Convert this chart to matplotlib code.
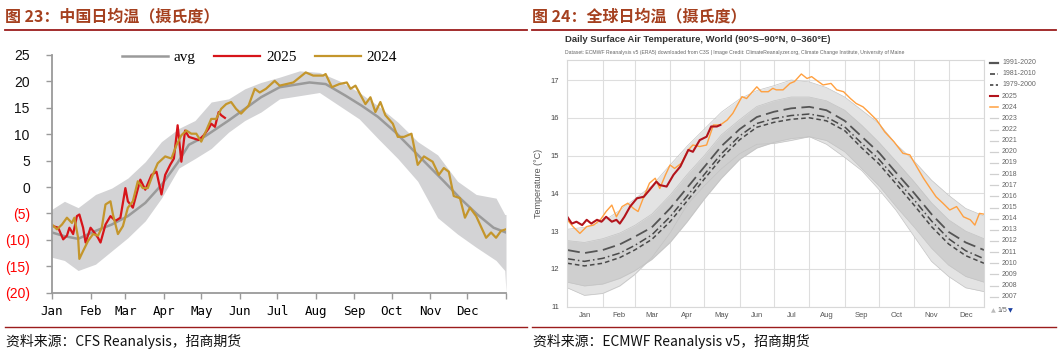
import matplotlib
matplotlib.use('Agg')
import matplotlib.pyplot as plt
from matplotlib.lines import Line2D

# ---------------- 图23 中国日均温 (day of year -> deg C) ----------------
cn_band_days = [0, 10, 21, 35, 48, 61, 75, 88, 102, 115, 128, 142, 155, 168, 183,
                199, 215, 231, 247, 262, 278, 294, 310, 326, 341, 357, 364, 365]
cn_band_hi = [-4.2, -2.7, -3.9, -1.4, -0.2, 1.7, 4.8, 8.6, 11.1, 12.6, 16.1, 16.7, 18.6, 19.8, 20.8,
              22.0, 21.7, 20.1, 17.9, 15.4, 12.3, 8.6, 6.1, 1.1, -1.4, -2.1, -5.2, -5.2]
cn_band_lo = [-13.3, -13.9, -15.8, -14.6, -12.1, -9.6, -6.4, -2.1, 3.6, 5.4, 7.3, 10.4, 12.6, 14.2, 16.7,
              17.3, 17.9, 15.4, 12.9, 9.2, 5.4, 1.1, -5.8, -8.9, -11.4, -13.9, -15.8, -20.0]

cn_avg_days = [0, 10, 21, 35, 48, 61, 75, 88, 101, 110, 123, 142, 155, 168, 183,
               207, 220, 236, 249, 262, 276, 289, 302, 315, 328, 342, 355, 365]
cn_avg = [-8.6, -9.3, -9.8, -8.3, -7.1, -5.5, -3.0, 0.4, 4.6, 8.0, 9.6, 12.6, 14.8, 17.0, 18.9,
          19.8, 19.5, 17.3, 15.4, 13.3, 10.4, 7.3, 4.2, 1.1, -2.1, -5.2, -7.7, -8.6]

cn_2025_days = [1, 5, 9, 12, 14, 17, 20, 22, 25, 27, 31, 34, 37, 39, 43, 47, 51, 55, 59, 61, 65,
                71, 75, 80, 84, 88, 91, 95, 98, 101, 104, 107, 110, 114, 118, 122, 126, 128, 131,
                134, 136, 139]
cn_2025 = [-7.4, -7.7, -9.9, -9.2, -7.7, -8.9, -5.5, -5.2, -7.7, -10.5, -7.7, -8.6, -9.6, -10.5,
           -7.1, -5.5, -6.4, -5.8, -0.2, -2.7, -3.9, 1.4, -0.5, 2.3, 2.9, -1.4, 2.3, 4.2, 5.4,
           11.7, 4.8, 10.7, 9.5, 9.2, 8.9, 9.8, 11.1, 12.0, 11.4, 14.2, 13.6, 13.1]

cn_2024_days = [0, 4, 8, 12, 16, 18, 21, 22, 25, 29, 33, 37, 40, 43, 47, 49, 53, 57, 61, 65, 69,
                73, 77, 81, 85, 91, 96, 100, 104, 108, 112, 116, 120, 124, 128, 132, 136, 140,
                144, 148, 152, 158, 163, 167, 172, 179, 183, 194, 204, 210, 218, 220, 225, 231,
                237, 240, 244, 252, 256, 260, 264, 268, 274, 278, 283, 289, 294, 299, 306, 311,
                315, 319, 323, 328, 332, 336, 341, 349, 353, 357, 361, 365]
cn_2024 = [-7.1, -8.0, -7.1, -5.8, -6.8, -5.8, -9.6, -13.6, -12.1, -10.2, -8.9, -9.2, -7.7, -3.3,
           -2.7, -5.2, -8.9, -7.4, -3.9, -2.7, 1.1, -0.2, -0.2, 2.3, 4.5, 5.8, 5.4, 7.9, 9.8,
           10.7, 10.1, 10.1, 8.6, 10.7, 12.9, 12.9, 14.8, 15.7, 16.1, 14.8, 13.9, 15.4, 18.6,
           17.9, 18.6, 20.1, 19.2, 19.8, 21.7, 21.1, 21.1, 21.4, 18.9, 19.5, 19.8, 18.6, 19.2,
           15.7, 17.0, 14.2, 16.1, 13.6, 12.0, 9.5, 9.5, 10.1, 4.2, 5.8, 4.8, 2.3, 3.6, 2.9,
           -1.7, -2.1, -5.8, -3.9, -5.5, -9.6, -8.6, -9.6, -8.3, -8.0]

month_starts = [0, 31, 59, 90, 120, 151, 181, 212, 243, 273, 304, 334, 365]
month_names = ['Jan', 'Feb', 'Mar', 'Apr', 'May', 'Jun', 'Jul', 'Aug', 'Sep', 'Oct', 'Nov', 'Dec']
cn_yticks = [25, 20, 15, 10, 5, 0, -5, -10, -15, -20]
cn_ylabels = ['25', '20', '15', '10', '5', '0', '(5)', '(10)', '(15)', '(20)']

# ---------------- 图24 全球日均温 ----------------
gl_days = [0, 15, 31, 46, 59, 74, 90, 105, 120, 135, 151, 166, 181, 196, 212, 227, 243,
           258, 273, 288, 304, 319, 334, 349, 365]
gl_env_hi = [13.05, 13.1, 13.25, 13.55, 13.85, 14.2, 14.75, 15.25, 15.7, 16.15, 16.5, 16.72,
             16.85, 17.0, 16.95, 16.8, 16.55, 16.2, 15.85, 15.3, 14.85, 14.35, 13.95, 13.6, 13.4]
gl_env_lo = [11.5, 11.3, 11.35, 11.55, 11.85, 12.3, 12.95, 13.7, 14.2, 14.65, 15.05, 15.3,
             15.32, 15.4, 15.5, 15.3, 14.95, 14.6, 14.1, 13.55, 12.85, 12.2, 11.8, 11.5, 11.4]
gl_core_hi = [12.75, 12.7, 12.8, 12.95, 13.15, 13.45, 13.95, 14.5, 15.0, 15.55, 15.95, 16.3,
              16.45, 16.55, 16.55, 16.45, 16.2, 15.8, 15.35, 14.85, 14.3, 13.75, 13.3, 13.0, 12.8]
gl_core_lo = [11.65, 11.55, 11.6, 11.75, 11.95, 12.25, 12.7, 13.25, 13.85, 14.4, 14.9, 15.2,
              15.35, 15.45, 15.5, 15.4, 15.1, 14.65, 14.2, 13.65, 13.1, 12.55, 12.1, 11.8, 11.65]
clim_1991_2020 = [12.5, 12.42, 12.5, 12.65, 12.85, 13.1, 13.6, 14.15, 14.7, 15.25, 15.7, 16.02,
                  16.16, 16.25, 16.29, 16.2, 15.92, 15.5, 15.08, 14.55, 14.0, 13.45, 12.98, 12.7, 12.5]
clim_1981_2010 = [12.27, 12.2, 12.28, 12.42, 12.62, 12.9, 13.38, 13.93, 14.5, 15.05, 15.52, 15.85,
                  15.98, 16.06, 16.1, 16.02, 15.76, 15.32, 14.9, 14.38, 13.82, 13.27, 12.8, 12.48, 12.27]
clim_1979_2000 = [12.15, 12.08, 12.15, 12.3, 12.5, 12.78, 13.25, 13.8, 14.38, 14.93, 15.42, 15.75,
                  15.88, 15.96, 16.0, 15.92, 15.66, 15.2, 14.78, 14.25, 13.68, 13.12, 12.66, 12.35, 12.15]

gl_2025_days = [0, 4, 8, 13, 17, 21, 26, 30, 34, 39, 43, 46, 50, 55, 61, 67, 72, 78, 81, 87, 93,
                99, 106, 110, 116, 122, 126, 131, 134]
gl_2025 = [13.38, 13.2, 13.25, 13.16, 13.3, 13.2, 13.3, 13.25, 13.38, 13.25, 13.3, 13.2, 13.38,
           13.65, 13.87, 13.91, 14.09, 14.31, 14.22, 14.18, 14.49, 14.71, 15.15, 15.1, 15.41,
           15.5, 15.77, 15.77, 15.81]

gl_2024_days = [0, 5, 11, 17, 23, 29, 34, 39, 43, 48, 53, 58, 62, 67, 72, 77, 81, 86, 90, 94, 100,
                106, 110, 116, 122, 128, 134, 140, 145, 153, 157, 161, 166, 170, 176, 180, 183,
                189, 195, 199, 205, 210, 214, 218, 224, 231, 236, 242, 248, 253, 259, 265, 271,
                278, 286, 294, 300, 306, 312, 318, 323, 329, 335, 341, 347, 353, 357, 361, 365]
gl_2024 = [13.3, 13.12, 12.94, 13.12, 13.16, 13.3, 13.52, 13.69, 13.38, 13.65, 13.74, 13.6, 13.52,
           13.91, 14.27, 14.4, 14.13, 14.49, 14.75, 14.66, 14.8, 15.15, 15.28, 15.24, 15.28, 15.81,
           15.81, 15.94, 16.12, 16.56, 16.51, 16.65, 16.82, 16.69, 16.69, 16.78, 16.74, 16.74,
           16.91, 16.96, 17.16, 17.04, 17.09, 17.0, 16.87, 16.91, 16.74, 16.69, 16.51, 16.38,
           16.29, 16.12, 15.94, 15.63, 15.37, 15.06, 15.02, 14.71, 14.4, 14.13, 13.91, 13.74,
           13.56, 13.65, 13.38, 13.3, 13.16, 13.47, 13.45]

gl_yticks = [11, 12, 13, 14, 15, 16, 17]
legend_years = ['1991-2020', '1981-2010', '1979-2000', '2025', '2024'] + \
               [str(y) for y in range(2023, 2006, -1)]

W, H = 1060, 355
TITLE_C = '#A5401F'
RULE_C = '#9B1C1C'
CJK = ['Noto Sans CJK SC', 'DejaVu Sans']


def fx(px):
    return px / W


def fy(py):
    return 1 - py / H


fig = plt.figure(figsize=(W / 100, H / 100), dpi=100)

# section headers, rules and sources
for x0, x1, title, src in [(5, 527, '图 23：中国日均温（摄氏度）', '资料来源：CFS Reanalysis，招商期货'),
                           (532, 1056, '图 24：全球日均温（摄氏度）', '资料来源：ECMWF Reanalysis v5，招商期货')]:
    fig.text(fx(x0), fy(16), title, family=CJK, fontsize=11.5, fontweight='bold',
             color=TITLE_C, va='center', ha='left')
    fig.add_artist(Line2D([fx(x0), fx(x1)], [fy(30), fy(30)], color=RULE_C, lw=1.3))
    fig.add_artist(Line2D([fx(x0), fx(x1)], [fy(327), fy(327)], color=RULE_C, lw=1.0))
    fig.text(fx(x0 + 1), fy(341), src, family=CJK, fontsize=10, color='#111111',
             va='center', ha='left')

# ---------------- left chart ----------------
ax1 = fig.add_axes([fx(52), fy(292.7), fx(506 - 52), (292.7 - 55) / H])
ax1.fill_between(cn_band_days, cn_band_lo, cn_band_hi, color='#d3d3d5', lw=0)
ax1.plot(cn_avg_days, cn_avg, color='#9a9a9a', lw=1.8, label='avg')
ax1.plot(cn_2025_days, cn_2025, color='#D7141A', lw=1.6, label='2025')
ax1.plot(cn_2024_days, cn_2024, color='#C4962C', lw=1.6, label='2024')
ax1.set_xlim(0, 365)
ax1.set_ylim(-20, 25)
for s in ['top', 'right']:
    ax1.spines[s].set_visible(False)
for s in ['left', 'bottom']:
    ax1.spines[s].set_color('#9a9a9a')
    ax1.spines[s].set_linewidth(1.3)
ax1.set_xticks(month_starts)
ax1.set_xticklabels(month_names + [''], family='DejaVu Sans Mono', fontsize=9)
ax1.set_yticks(cn_yticks)
ax1.set_yticklabels(cn_ylabels, family='Liberation Sans', fontsize=10)
for lab, v in zip(ax1.get_yticklabels(), cn_yticks):
    lab.set_color('#FF0000' if v < 0 else '#111111')
ax1.tick_params(axis='both', color='#9a9a9a', length=4, width=1)
ax1.tick_params(axis='y', pad=12)
ax1.tick_params(axis='x', pad=5)
ax1.legend(loc='center', bbox_to_anchor=(0.457, 0.99), ncol=3, frameon=False,
           prop={'family': 'Liberation Serif', 'size': 11}, handlelength=3.0,
           columnspacing=1.2, handletextpad=0.4)

# ---------------- right chart ----------------
ax2 = fig.add_axes([fx(567.3), fy(306.7), fx(984 - 567.3), (306.7 - 60) / H])
ax2.fill_between(gl_days, gl_env_lo, gl_env_hi, color='#e3e3e3', lw=0)
ax2.fill_between(gl_days, gl_core_lo, gl_core_hi, color='#cfcfcf', lw=0)
for edge in (gl_env_lo, gl_env_hi, gl_core_lo, gl_core_hi):
    ax2.plot(gl_days, edge, color='#c4c4c4', lw=0.5)
ax2.plot(gl_days, clim_1979_2000, color='#4a4a4a', lw=1.1, ls=(0, (3, 2)))
ax2.plot(gl_days, clim_1981_2010, color='#4a4a4a', lw=1.1, ls=(0, (5, 2, 1, 2)))
ax2.plot(gl_days, clim_1991_2020, color='#555555', lw=1.3, ls=(0, (7, 3)))
ax2.plot(gl_2024_days, gl_2024, color='#FFA040', lw=1.0)
ax2.plot(gl_2025_days, gl_2025, color='#B3141C', lw=1.5)
ax2.set_xlim(0, 365)
ax2.set_ylim(11, 17.53)
ax2.set_yticks(gl_yticks)
ax2.set_yticklabels([str(v) for v in gl_yticks], fontsize=5.5, color='#444444',
                    family='Liberation Sans')
ax2.set_xticks(month_starts)
ax2.set_xticklabels([])
mids = [(a + b) / 2 for a, b in zip(month_starts[:-1], month_starts[1:])]
ax2.set_xticks(mids, minor=True)
ax2.set_xticklabels(month_names, minor=True, fontsize=5.5, color='#555555',
                    family='Liberation Sans')
ax2.tick_params(axis='both', which='both', length=0)
ax2.tick_params(axis='y', pad=6)
ax2.tick_params(axis='x', which='minor', pad=4)
ax2.grid(True, which='major', color='#dedede', lw=0.8)
ax2.set_axisbelow(True)
for s in ax2.spines.values():
    s.set_color('#d8d8d8')
    s.set_linewidth(0.8)
ax2.set_ylabel('Temperature (°C)', fontsize=6.5, color='#555555', family='Liberation Sans')
ax2.yaxis.set_label_coords(-0.058, 0.5)

fig.text(fx(565), fy(40), 'Daily Surface Air Temperature, World (90°S–90°N, 0–360°E)',
         fontsize=6.8, fontweight='bold', color='#333333', family='Liberation Sans',
         va='center', ha='left')
fig.text(fx(565), fy(52.5), 'Dataset: ECMWF Reanalysis v5 (ERA5) downloaded from C3S | Image Credit: '
         'ClimateReanalyzer.org, Climate Change Institute, University of Maine',
         fontsize=3.7, color='#666666', family='Liberation Sans', va='center', ha='left')

# legend drawn beside the plot
leg_styles = {'1991-2020': ('#555555', 1.6, '-'),
              '1981-2010': ('#444444', 1.2, (0, (3, 1.5, 1, 1.5))),
              '1979-2000': ('#444444', 1.2, (0, (2, 1.5))),
              '2025': ('#B3141C', 1.5, '-'),
              '2024': ('#FFA040', 1.1, '-')}
for i, name in enumerate(legend_years):
    yy = 62.7 + i * 11.14
    c, lw, ls = leg_styles.get(name, ('#d0d0d0', 0.9, '-'))
    fig.add_artist(Line2D([fx(990), fx(998)], [fy(yy), fy(yy)], color=c, lw=lw, ls=ls))
    fig.text(fx(1002), fy(yy), name, fontsize=5, color='#666666', family='Liberation Sans',
             va='center', ha='left')
fig.text(fx(991), fy(311), '▲', fontsize=4.5, color='#bbbbbb', va='center', ha='left',
         family='DejaVu Sans')
fig.text(fx(997), fy(310.5), '1/5', fontsize=5, color='#666666', va='center', ha='left',
         family='Liberation Sans')
fig.text(fx(1008), fy(311), '▼', fontsize=4.5, color='#1a3fa0', va='center', ha='left',
         family='DejaVu Sans')

fig.savefig('out.png', dpi=100)
